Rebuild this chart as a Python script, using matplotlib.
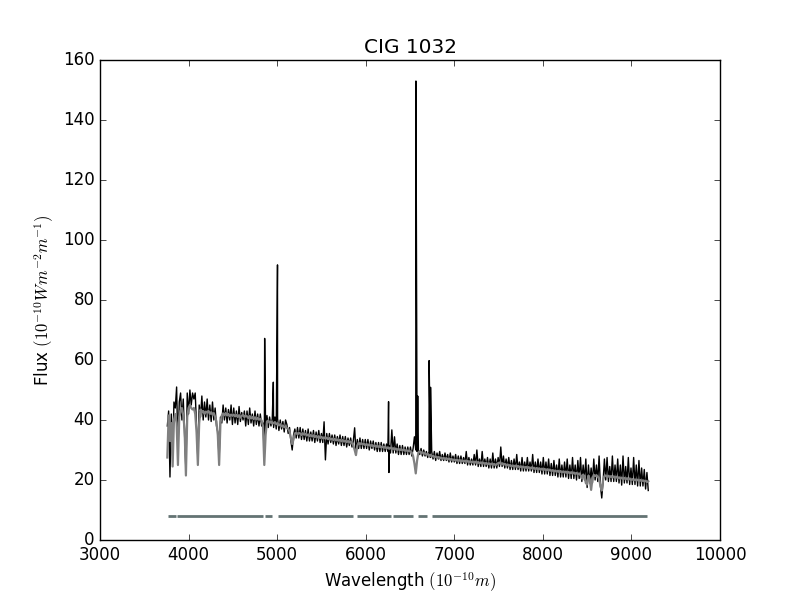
import numpy as np
import matplotlib
matplotlib.use("Agg")
import matplotlib.pyplot as plt

plt.style.use("classic")

# ---- data -----------------------------------------------------------------
wave_start, wave_stop, wave_step = 3760, 9190, 15

model_flux = [
    27.5, 41.5, 33, 39, 24.5, 40, 42, 39, 25, 41,
    43, 44, 41.5, 37, 21.5, 41, 44, 45, 44, 43.5,
    44, 42, 36, 25, 39, 43.5, 42.5, 43, 42, 42.8,
    42.5, 43, 42, 42.6, 41.8, 42.3, 41, 39.5, 35, 25,
    39, 41.5, 42.2, 41.6, 42.3, 41.5, 42, 41.3, 41.8, 41.4,
    41.8, 41.2, 41.7, 41, 41.6, 40.8, 41.4, 41.7, 41, 41.5,
    41.2, 40.6, 41.3, 40.5, 41, 40.3, 40.9, 40.2, 40.7, 40.1,
    40.4, 39.8, 38, 25, 35, 39.5, 39.8, 39, 39.5, 38.8,
    39, 39.3, 38.6, 38.9, 38.2, 38.6, 37.9, 38.2, 37.6, 37.9,
    37.3, 37, 36.2, 34, 32, 33.5, 35.5, 35.8, 35.2, 35.7,
    35.5, 35, 35.6, 35.1, 35.4, 34.8, 35.2, 34.6, 35, 34.5,
    34.9, 34.3, 34.7, 34.2, 34.6, 34, 34.4, 33.9, 34.2, 33.8,
    34.1, 33.6, 34, 33.5, 33.8, 33.3, 33.7, 33.2, 33.5, 33.1,
    33.4, 32.9, 33.3, 32.8, 33.1, 32.6, 33, 32.5, 32.8, 32.3,
    31.5, 30, 28.3, 31.5, 32.4, 31.9, 32.3, 31.8, 32.1, 31.6,
    32, 31.5, 31.9, 31.3, 31.7, 31.2, 31.6, 31, 31.5, 30.9,
    31.4, 30.8, 31.2, 30.7, 31.1, 30.5, 30.9, 30.4, 30.8, 30.3,
    30.6, 30.1, 30.5, 30, 30.4, 29.9, 30.3, 29.8, 30.2, 29.7,
    30, 29.5, 29.9, 29.4, 29.2, 28, 25.5, 22.2, 26.5, 29.2,
    29.6, 29, 29.3, 28.7, 29, 28.4, 28.7, 28.1, 28.4, 27.8,
    28.1, 27.6, 27.9, 27.4, 27.7, 27.2, 27.5, 27, 27.4, 26.9,
    27.3, 26.8, 27.2, 26.7, 27, 26.5, 26.9, 26.4, 26.8, 26.3,
    26.7, 26.2, 26.6, 26.1, 26.5, 26, 26.4, 25.9, 26.3, 25.8,
    26.2, 25.7, 26.1, 25.6, 26, 25.5, 25.9, 25.4, 25.8, 25.3,
    25.7, 25.2, 25.6, 25.1, 25.5, 25, 25.4, 24.9, 25.3, 25.6,
    25.8, 25.3, 25.6, 25.1, 25.4, 24.9, 25.2, 24.7, 25, 24.5,
    24.9, 24.4, 24.8, 24.3, 24.7, 24.2, 24.6, 24.1, 24.5, 24,
    24.4, 23.9, 24.3, 23.8, 24.2, 23.7, 24.1, 23.6, 24, 23.5,
    23.9, 23.4, 23.8, 23.3, 23.7, 23.2, 23.6, 23.1, 23.5, 23,
    23.3, 22.8, 23.2, 22.7, 23.1, 22.6, 23, 22.5, 22.9, 22.4,
    22.8, 22.3, 22.7, 22.2, 22.6, 22.1, 22.5, 22, 22.4, 21.9,
    22.2, 21.6, 20.5, 21.8, 21.2, 19, 18.5, 21.5, 20, 16.7,
    20.5, 21.7, 21.3, 21.6, 21.1, 20.5, 18, 16.5, 20, 21.3,
    21.5, 21, 21.4, 20.9, 21.3, 20.8, 21.2, 20.7, 21.1, 20.6,
    20.9, 20.4, 20.8, 20.3, 20.7, 20.2, 20.6, 20.1, 20.5, 20,
    20.3, 19.9, 20.2, 19.8, 20.1, 19.7, 20, 19.6, 19.9, 19.5,
    19.8, 19.3, 19.6,
]

obs_flux = [
    38, 43, 21, 42, 28, 46, 44, 51, 30, 46,
    49, 40, 47, 35, 23, 49, 42, 50, 45, 49,
    47, 49, 38, 27, 45, 41, 48, 40, 46, 41,
    47, 40, 45, 39.5, 46, 40, 44, 38, 36, 27,
    41, 39, 45, 40, 44, 39, 43.5, 40, 45, 38.5,
    44, 39, 43, 38.5, 44.5, 39.5, 42.5, 40, 43, 38,
    43, 38.5, 44, 39, 42, 38, 43, 38.5, 42, 38,
    42, 38, 39, 28, 36, 41.5, 37.5, 41, 38, 40.5,
    37.5, 41, 37, 40.5, 36.5, 40, 37, 39.5, 36, 40,
    38.5, 35.5, 37.5, 33, 30, 35, 37, 34, 37.5, 34,
    37.5, 33.5, 37, 33.5, 36.5, 33, 37, 33, 36, 33,
    36.5, 32.5, 36, 33, 36.5, 32.5, 35.5, 32.5, 39.4, 26.7,
    35.5, 32, 35.5, 32.5, 35, 32, 35, 31.5, 34.5, 32,
    35, 31.5, 34.5, 31.5, 34.5, 31, 34, 31.5, 34, 31,
    33, 37.4, 29, 33.5, 30.5, 34, 30.5, 33.5, 30.5, 33.5,
    30.5, 33.5, 30, 33, 30.5, 33, 30, 32.5, 29.5, 32.5,
    29.5, 32.5, 29.5, 32, 29.5, 32, 29.5, 31.5, 29, 36.7,
    29, 34.4, 29, 32, 28.5, 31.5, 28.5, 31.5, 28.5, 31,
    28.5, 31, 28.5, 31, 28, 30.5, 34.4, 30, 29.5, 30,
    28.5, 30.5, 28, 30, 28, 29.5, 27.5, 29.5, 27.5, 29.5,
    27, 29.5, 26.5, 29, 27, 29.5, 26.5, 28.5, 26.5, 29,
    26.5, 28.5, 26, 29, 26, 28, 26, 28.5, 25.5, 28,
    25.5, 28, 25.5, 27.5, 25.5, 29.5, 25, 27.5, 25, 27,
    25, 28.5, 25, 30, 24.5, 27, 24.5, 29.5, 24.5, 27,
    24.5, 27.5, 24, 27, 24, 29, 24, 27, 24, 27.5,
    24.5, 31, 24.5, 28, 24, 27, 24, 27.5, 23.5, 26.5,
    23.5, 27, 23.5, 28.5, 23.5, 26, 23, 27.5, 23, 26,
    23, 27.5, 23, 26, 23, 28.5, 22.5, 26, 22.5, 27,
    22.5, 26, 22, 27.5, 22, 26, 22, 27, 21.5, 25.5,
    21.5, 26.5, 21.5, 25, 21, 27, 21, 25, 21, 26,
    21, 27, 20.5, 25, 20.5, 27.5, 20.5, 25, 20, 26.5,
    20.5, 27.5, 19.5, 25, 20, 27, 17.5, 25, 19, 24,
    19, 27, 20, 25, 19.5, 28, 18, 14, 19.5, 27,
    20, 27.5, 19.5, 24.5, 19.5, 28, 19.5, 25, 19.5, 27,
    19, 25, 18.3, 28, 19, 24.5, 19, 27.5, 18.5, 24,
    18.5, 27.5, 18.5, 25, 18, 26.5, 18, 24, 18, 23.5,
    17, 22.5, 16.5,
]

# narrow emission lines / residual spikes in the observed spectrum
line_wave = [4859, 4957, 5004, 6258, 6262, 6567, 6587, 6716, 6732]
line_flux = [67.2, 52.6, 91.7, 46.1, 22.5, 153.0, 48.0, 59.8, 50.9]

# wavelength ranges used in the fit (mask), drawn at flux = 8
mask_start = [3771, 3866, 4863, 5013, 5905, 6311, 6594, 6745]
mask_end = [3858, 4844, 4939, 5860, 6282, 6530, 6697, 9172]
mask_level = 8

# ---- assemble -------------------------------------------------------------
wave = np.arange(wave_start, wave_stop + 1, wave_step)
model_flux = np.array(model_flux)
obs_flux = np.array(obs_flux)

w_obs = np.concatenate([wave, line_wave])
f_obs = np.concatenate([obs_flux, line_flux])
order = np.argsort(w_obs, kind="stable")
w_obs, f_obs = w_obs[order], f_obs[order]

# ---- plot -----------------------------------------------------------------
fig = plt.figure(figsize=(8, 6), dpi=100, facecolor="white")
ax = fig.add_subplot(111)

ax.plot(w_obs, f_obs, color="black", lw=1.0)
ax.plot(wave, model_flux, color="grey", lw=1.6)
ax.hlines(np.full(len(mask_start), mask_level), mask_start, mask_end,
          color="#637373", lw=2)

ax.set_xlim(3000, 10000)
ax.set_ylim(0, 160)
ax.set_title("CIG 1032")
ax.set_xlabel(r"Wavelength $(10^{-10}m)$")
ax.set_ylabel(r"Flux $(10^{-10}Wm^{-2}m^{-1})$")

fig.savefig("out.png", dpi=100, facecolor="white")
